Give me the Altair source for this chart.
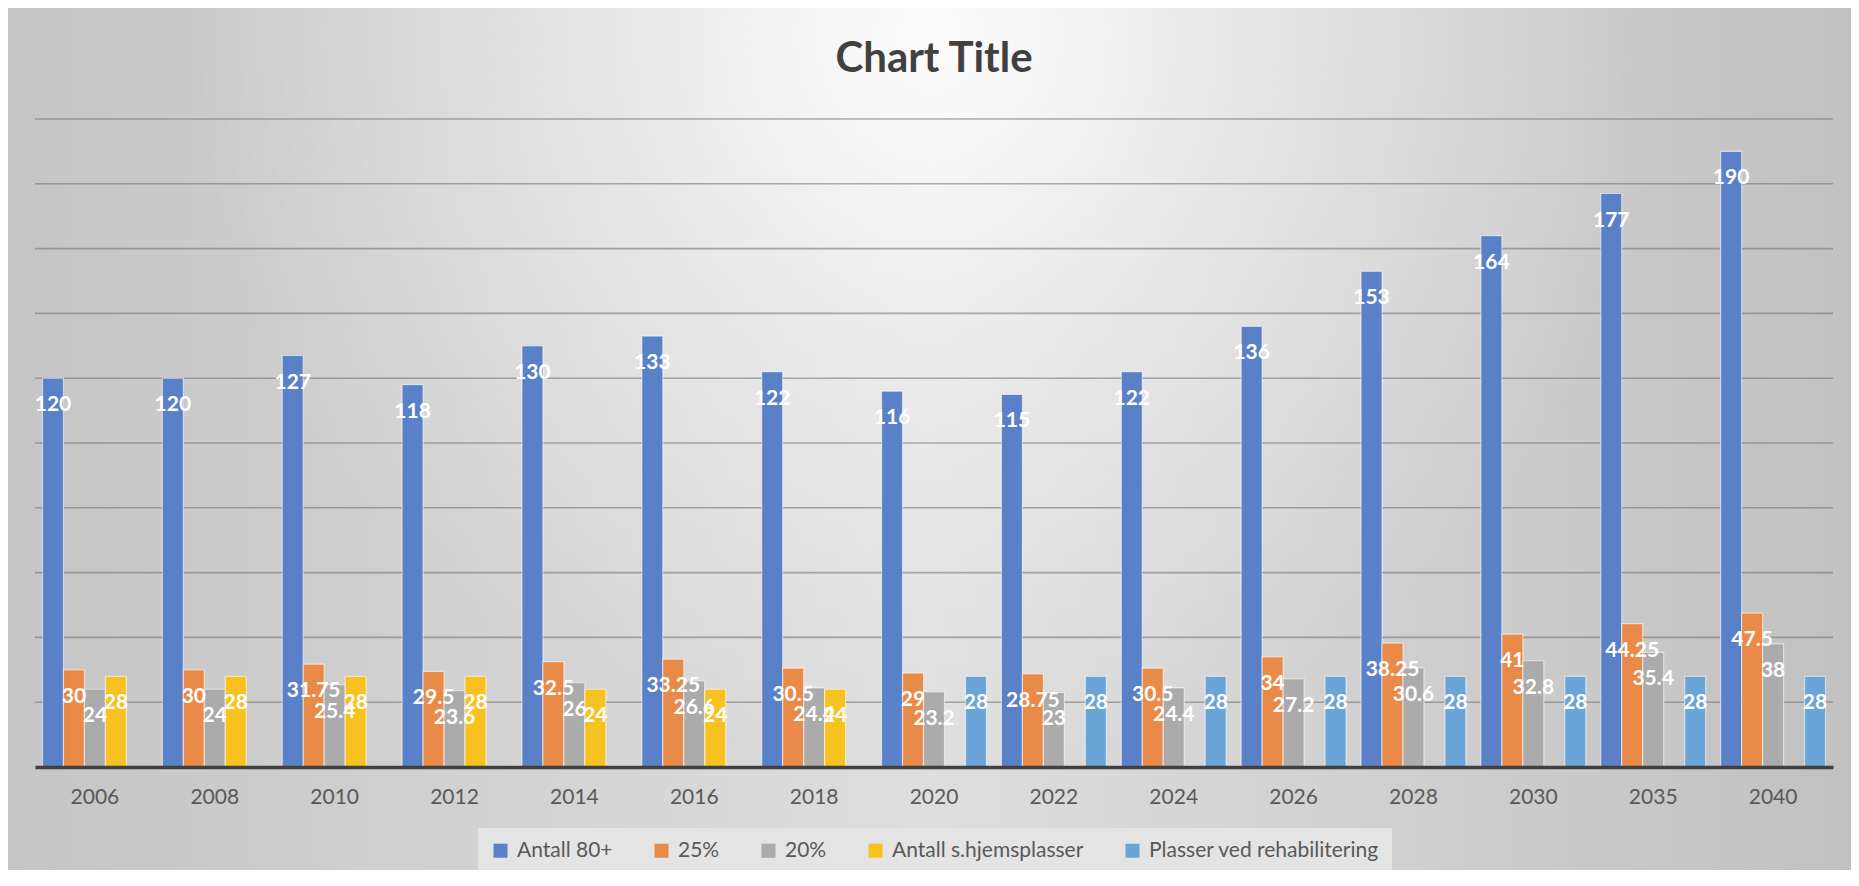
import altair as alt
import pandas as pd

years = ["2006", "2008", "2010", "2012", "2014", "2016", "2018", "2020",
         "2022", "2024", "2026", "2028", "2030", "2035", "2040"]
series = ["Antall 80+", "25%", "20%", "Antall s.hjemsplasser", "Plasser ved rehabilitering"]
antall80 = [120, 120, 127, 118, 130, 133, 122, 116, 115, 122, 136, 153, 164, 177, 190]
p25 = [30, 30, 31.75, 29.5, 32.5, 33.25, 30.5, 29, 28.75, 30.5, 34, 38.25, 41, 44.25, 47.5]
p20 = [24, 24, 25.4, 23.6, 26, 26.6, 24.4, 23.2, 23, 24.4, 27.2, 30.6, 32.8, 35.4, 38]
shjem = [28, 28, 28, 28, 24, 24, 24, None, None, None, None, None, None, None, None]
rehab = [None, None, None, None, None, None, None, 28, 28, 28, 28, 28, 28, 28, 28]
colors = ["#5a81c8", "#e98a48", "#ababab", "#f7c21f", "#6ba4d6"]
grid_values = [20, 40, 60, 80, 100, 120, 140, 160, 180, 200]
title_text = "Chart Title"

rows = []
for name, vals in zip(series, [antall80, p25, p20, shjem, rehab]):
    for y, v in zip(years, vals):
        if v is not None:
            rows.append({"year": y, "series": name, "value": v})
df = pd.DataFrame(rows)

W, H = 1798, 648
PL, PT, PR, PB = 27, 111, 18, 103

x_enc = alt.X("year:N", sort=years,
              scale=alt.Scale(paddingInner=0.125, paddingOuter=0.0625),
              axis=alt.Axis(title=None, labelAngle=0, ticks=False, domain=True,
                            domainColor="#404040", domainWidth=3.5, grid=False,
                            labelFont="Lato", labelFontSize=21, labelColor="#595959",
                            labelPadding=19, zindex=1))
y_enc = alt.Y("value:Q", scale=alt.Scale(domain=[0, 200], nice=False),
              axis=alt.Axis(title=None, labels=False, ticks=False, domain=False, grid=False))
xo_enc = alt.XOffset("series:N", scale=alt.Scale(domain=series, paddingInner=0, paddingOuter=0))

one = alt.Data(values=[{}])
bg_lin = alt.Chart(one).mark_rect(
    fill={"gradient": "linear", "x1": 0, "y1": 0, "x2": 1, "y2": 0,
          "stops": [{"offset": 0, "color": "#c5c5c5"},
                    {"offset": 0.5, "color": "#dedede"},
                    {"offset": 1, "color": "#c1c1c1"}]}
).encode(x=alt.value(-PL), x2=alt.value(W + PR), y=alt.value(-PT), y2=alt.value(H + PB))

bg_rad = alt.Chart(one).mark_rect(
    fill={"gradient": "radial", "x1": 0.5, "y1": 0.281, "r1": 0,
          "x2": 0.5, "y2": 0.281, "r2": 0.40,
          "stops": [{"offset": 0, "color": "rgba(255,255,255,0.92)"},
                    {"offset": 0.45, "color": "rgba(255,255,255,0.4)"},
                    {"offset": 1, "color": "rgba(255,255,255,0)"}]}
).encode(x=alt.value(-PL), x2=alt.value(W + PR), y=alt.value(-PT), y2=alt.value(H + PB))

title = alt.Chart(one).mark_text(
    text=title_text, font="Lato", fontSize=42, fontWeight="bold", color="#404040",
    align="center", baseline="alphabetic"
).encode(x=alt.value(W / 2), y=alt.value(-47))

grid = alt.Chart(pd.DataFrame({"v": grid_values})).mark_rule(
    color="#777777", strokeWidth=1.6, opacity=0.6
).encode(y=alt.Y("v:Q", scale=alt.Scale(domain=[0, 200], nice=False)))

base = alt.Chart(df)
bars = base.mark_bar(stroke="#ffffff", strokeOpacity=0.55, strokeWidth=1.2).encode(
    x=x_enc, xOffset=xo_enc, y=y_enc,
    color=alt.Color("series:N", scale=alt.Scale(domain=series, range=colors),
                    legend=alt.Legend(title=None, orient="none", direction="horizontal",
                                      legendX=443, legendY=709,
                                      symbolType="square", symbolSize=196,
                                      symbolStrokeWidth=0,
                                      labelFont="Lato", labelFontSize=21,
                                      labelColor="#595959", labelOffset=6,
                                      labelLimit=0,
                                      columnPadding=38, padding=12,
                                      fillColor="#e4e4e4")),
)
labels = base.mark_text(color="white", font="Lato", fontWeight="bold", fontSize=21,
                        baseline="middle", dy=27).encode(
    x=x_enc, xOffset=xo_enc, y=y_enc, text=alt.Text("value:Q"))

chart = alt.layer(bg_lin, bg_rad, title, grid, bars, labels).properties(
    width=W, height=H,
    padding={"left": PL, "top": PT, "right": PR, "bottom": PB},
    autosize="none",
).configure_view(stroke=None).configure(background="#ffffff")

chart.save("out.html", embed_options={"renderer": "svg", "actions": False})
